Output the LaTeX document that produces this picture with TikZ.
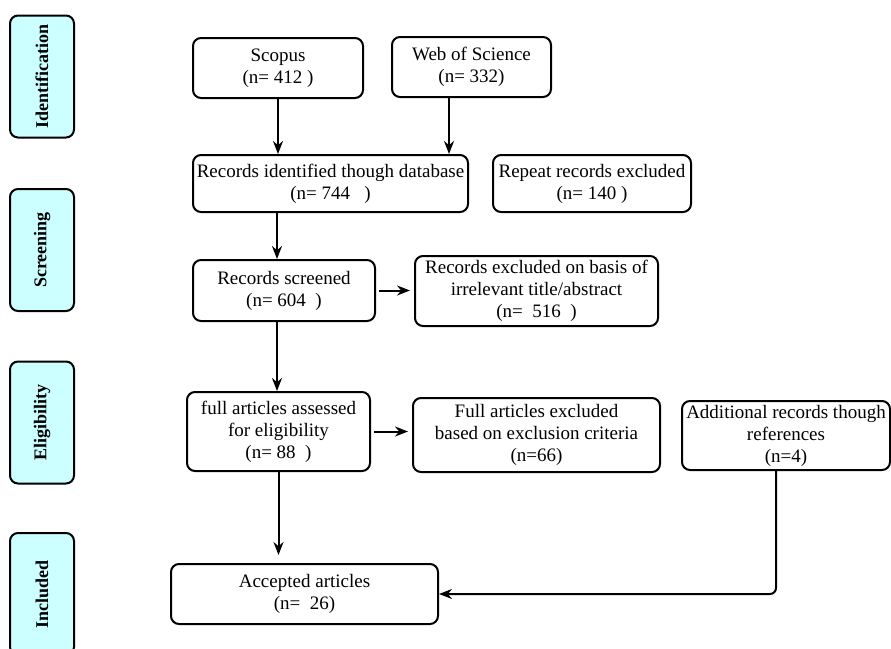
\documentclass[tikz,border=0pt]{standalone}
\usepackage{fontspec}
\setmainfont{Liberation Serif}
\usepackage{tikz}
\usetikzlibrary{arrows.meta,calc,positioning}
\tikzset{>={Stealth[length=13pt,width=10pt]}}
\definecolor{stagecyan}{HTML}{CCFFFF}

\begin{document}
\begin{tikzpicture}[x=1pt,y=-1pt,
        box/.style={draw,line width=2pt,rounded corners=8pt,align=center,inner sep=1pt,
            font=\fontsize{19}{22}\selectfont},
        stage/.style={draw,line width=2pt,rounded corners=8pt,fill=stagecyan,rotate=90,
            minimum width=122pt,minimum height=64pt,font=\bfseries\fontsize{18}{20}\selectfont},
        flow/.style={line width=2pt,->}]
                \useasboundingbox (0,0) rectangle (891,648);
                % stages on the left
                \node[stage] (idn) at (42,76.5) {Identification};
                \node[stage] (scr) at (42,250) {Screening};
                \node[stage] (elg) at (42,422.5) {Eligibility};
                \node[stage] (inc) at (42,594) {Included};
                % records
                \node[box,minimum width=170pt,minimum height=60pt] (scopus) at (278,68) {Scopus\\(n= 412 )};
                \node[box,minimum width=159pt,minimum height=60pt] (wos) at (471.5,67) {Web of Science\\(n= 332)};
                \node[box,minimum width=275pt,minimum height=57pt] (ident) at (330.5,183.5) {Records identified though database\\(n= 744\ \ \ )};
                \node[box,minimum width=198pt,minimum height=57pt] (repeat) at (592,183.5) {Repeat records excluded\\(n= 140 )};
                \node[box,minimum width=182pt,minimum height=61pt] (screened) at (284,290.5) {Records screened\\(n= 604\ \ )};
                \node[box,minimum width=243pt,minimum height=70pt] (exclA) at (536.5,291) {Records excluded on basis of\\irrelevant title/abstract\\(n=\ \ 516\ \ )};
                \node[box,minimum width=183pt,minimum height=79pt] (full) at (278.5,431.5) {full articles assessed\\for eligibility\\(n= 88\ \ )};
                \node[box,minimum width=247pt,minimum height=74pt] (exclB) at (536.5,435) {Full articles excluded\\based on exclusion criteria\\(n=66)};
                \node[box,minimum width=208pt,minimum height=69pt] (addl) at (786,435.5) {Additional records though\\references\\(n=4)};
                \node[box,minimum width=267pt,minimum height=60pt] (accepted) at (304.5,594) {Accepted articles\\(n=\ \ 26)};
                % drop points
                \coordinate (wosdrop) at (449,97);
                \coordinate (identdrop) at (277,212);
                \coordinate (screendrop) at (277,321);
                \coordinate (addldrop) at (776,470);
                % arrows
                \draw[flow] (scopus.south) -- (scopus.south |- ident.north);
                \draw[flow] (wosdrop) -- (wosdrop |- ident.north);
                \draw[flow] (identdrop) -- (identdrop |- screened.north);
                \draw[flow,shorten <=3pt,shorten >=4pt] (screened.east) -- (screened.east -| exclA.west);
                \draw[flow] (screendrop) -- (screendrop |- full.north);
                \draw[flow,shorten <=3pt,shorten >=4pt] (full.east) -- (full.east -| exclB.west);
                \draw[flow,shorten >=8pt] (full.south) -- (full.south |- accepted.north);
                \draw[flow,rounded corners=6pt] (addldrop) |- (accepted.east);
\end{tikzpicture}
\end{document}
